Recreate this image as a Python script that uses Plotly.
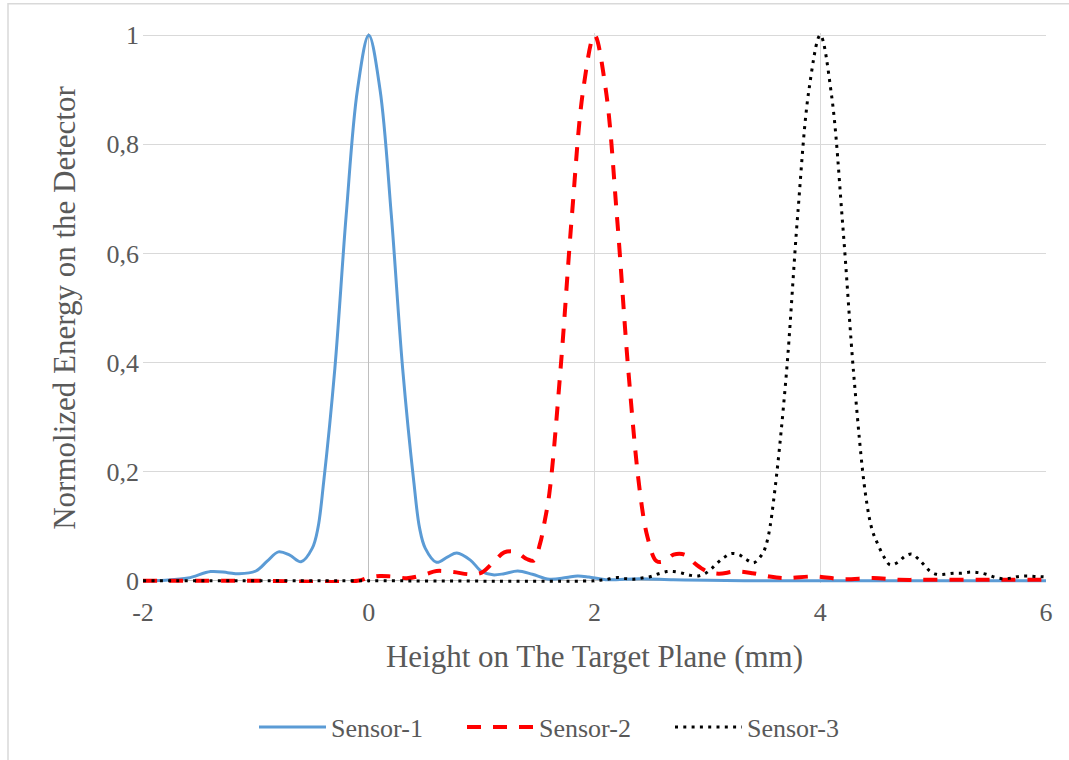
import plotly.graph_objects as go

# ---- data ----
s1_x = [-2.0, -1.8, -1.6, -1.4, -1.25, -1.15, -1.0, -0.9, -0.8, -0.7, -0.6, -0.5, -0.45, -0.4, -0.3, -0.2, -0.1, 0.0,
        0.1, 0.2, 0.3, 0.4, 0.45, 0.5, 0.6, 0.7, 0.78, 0.9, 1.0, 1.1, 1.2, 1.32, 1.45, 1.6, 1.75, 1.85, 1.95, 2.1,
        2.4, 2.7, 3.0, 3.5, 4.0, 5.0, 6.0]
s1_y = [0.0, 0.001, 0.005, 0.017, 0.015, 0.013, 0.018, 0.036, 0.053, 0.047, 0.035, 0.06, 0.097, 0.18, 0.39, 0.67, 0.9, 1.0,
        0.9, 0.67, 0.39, 0.18, 0.097, 0.06, 0.034, 0.044, 0.051, 0.038, 0.017, 0.011, 0.013, 0.018, 0.012, 0.003, 0.006, 0.009, 0.007, 0.002,
        0.004, 0.002, 0.001, 0.0, 0.0, 0.0, 0.0]

s2_x = [-2.0, -1.0, -0.1, 0.0, 0.1, 0.2, 0.35, 0.5, 0.6, 0.75, 0.9, 1.0, 1.1, 1.2, 1.3, 1.4, 1.46, 1.52, 1.55, 1.6,
        1.7, 1.8, 1.9, 2.0, 2.1, 2.2, 2.3, 2.4, 2.47, 2.55, 2.62, 2.7, 2.8, 2.9, 3.0, 3.1, 3.25, 3.4, 3.55, 3.7, 3.95,
        4.2, 4.47, 4.7, 5.0, 5.5, 6.0]
s2_y = [0.0, 0.0, 0.0, 0.006, 0.009, 0.008, 0.005, 0.012, 0.018, 0.016, 0.012, 0.015, 0.033, 0.052, 0.053, 0.04, 0.037, 0.07, 0.1, 0.16,
        0.39, 0.67, 0.9, 1.0, 0.9, 0.665, 0.385, 0.167, 0.08, 0.036, 0.036, 0.048, 0.048, 0.03, 0.017, 0.013, 0.017, 0.014, 0.008, 0.005, 0.008,
        0.003, 0.005, 0.002, 0.002, 0.002, 0.002]

s3_x = [-2.0, 0.0, 2.0, 2.05, 2.1, 2.2, 2.28, 2.35, 2.42, 2.5, 2.57, 2.64, 2.7, 2.78, 2.85, 2.92, 2.985, 3.04, 3.09, 3.15,
        3.21, 3.28, 3.345, 3.41, 3.46, 3.5, 3.54, 3.6, 3.7, 3.8, 3.9, 4.0, 4.1, 4.2, 4.3, 4.4, 4.46, 4.51, 4.575, 4.62,
        4.69, 4.75, 4.81, 4.87, 4.92, 4.97, 5.03, 5.1, 5.18, 5.25, 5.33, 5.4, 5.47, 5.54, 5.61, 5.69, 5.76, 5.83, 5.91, 6.0]
s3_y = [0.0, 0.0, 0.0, 0.001, 0.002, 0.006, 0.004, 0.003, 0.005, 0.008, 0.013, 0.017, 0.017, 0.014, 0.01, 0.009, 0.014, 0.023, 0.033, 0.043,
        0.05, 0.048, 0.039, 0.033, 0.042, 0.054, 0.082, 0.17, 0.38, 0.67, 0.9, 1.0, 0.89, 0.65, 0.37, 0.16, 0.093, 0.067, 0.04, 0.029,
        0.034, 0.045, 0.049, 0.04, 0.029, 0.018, 0.012, 0.012, 0.014, 0.014, 0.016, 0.015, 0.012, 0.007, 0.004, 0.005, 0.008, 0.009, 0.008, 0.007]

x_ticks = [-2, 0, 2, 4, 6]
x_tick_text = ["-2", "0", "2", "4", "6"]
y_ticks = [0, 0.2, 0.4, 0.6, 0.8, 1.0]
y_tick_text = ["0", "0,2", "0,4", "0,6", "0,8", "1"]

FONT = "Liberation Serif"
GREY = "#595959"

fig = go.Figure()
fig.add_trace(go.Scatter(x=s1_x, y=s1_y, name="Sensor-1", mode="lines", line_shape="spline",
                         line=dict(color="#5b9bd5", width=3)))
fig.add_trace(go.Scatter(x=s2_x, y=s2_y, name="Sensor-2", mode="lines", line_shape="spline",
                         line=dict(color="#ff0000", width=4, dash="14px,12px")))
fig.add_trace(go.Scatter(x=s3_x, y=s3_y, name="Sensor-3", mode="lines", line_shape="spline",
                         line=dict(color="#000000", width=3, dash="3px,5.3px")))

W, H = 1069, 760
pad = 0.004
fig.update_layout(
    width=W, height=H,
    margin=dict(l=143, r=W - 1046, t=35 - pad * 546, b=H - 581 - pad * 546, pad=0, autoexpand=False),
    paper_bgcolor="white", plot_bgcolor="white",
    font=dict(family=FONT, color=GREY, size=26),
    showlegend=True,
    legend=dict(orientation="h", x=(254 - 143) / 903, xanchor="left", y=(581 - 724) / 546, yanchor="middle",
                font=dict(size=26, color=GREY, family=FONT), itemwidth=67,
                entrywidth=126, entrywidthmode="pixels", bgcolor="rgba(0,0,0,0)"),
    xaxis=dict(range=[-2, 6], tickvals=x_ticks, ticktext=x_tick_text, showgrid=True, gridcolor="#d9d9d9",
               gridwidth=1, zeroline=True, zerolinecolor="#bfbfbf", zerolinewidth=1, showline=False,
               automargin=False,
               ticks="", tickfont=dict(size=26, color=GREY, family=FONT), ticklabelstandoff=11,
               title=dict(text="Height on The Target Plane (mm)", font=dict(size=31, color=GREY, family=FONT),
                          standoff=19)),
    yaxis=dict(range=[-pad, 1 + pad], tickvals=y_ticks, ticktext=y_tick_text, showgrid=True, gridcolor="#d9d9d9",
               gridwidth=1, zeroline=True, zerolinecolor="#bfbfbf", zerolinewidth=1, showline=False,
               automargin=False,
               ticks="", tickfont=dict(size=26, color=GREY, family=FONT), ticklabelstandoff=3,
               title=dict(text="Normolized Energy on the Detector", font=dict(size=31, color=GREY, family=FONT),
                          standoff=21)),
)
# outer chart border (only left/top edges fall inside the picture)
fig.add_shape(type="rect", xref="paper", yref="paper",
              x0=(8 - 143) / 903, x1=(1090 - 143) / 903, y0=(581 - 790) / 546, y1=(581 - 6) / 546,
              line=dict(color="#d9d9d9", width=1.5), fillcolor="rgba(0,0,0,0)", layer="below")

fig.write_html("out.html", config={"displayModeBar": False})
